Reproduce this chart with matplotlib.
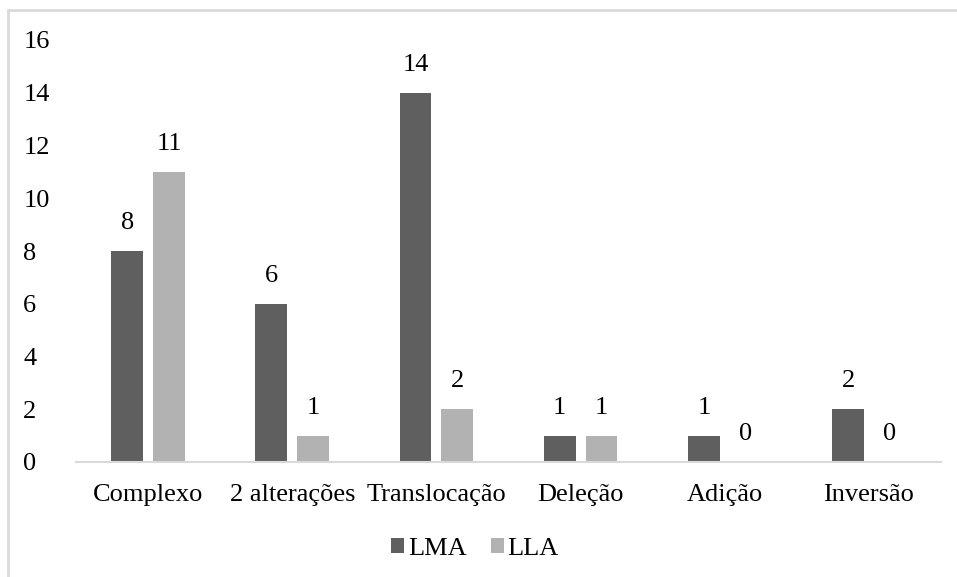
import matplotlib.pyplot as plt
from matplotlib.patches import Rectangle
import numpy as np

categories = ['Complexo', '2 alterações', 'Translocação', 'Deleção', 'Adição', 'Inversão']
lma = [8, 6, 14, 1, 1, 2]
lla = [11, 1, 2, 1, 0, 0]
yticks = [0, 2, 4, 6, 8, 10, 12, 14, 16]

plt.rcParams['font.family'] = ['Liberation Serif', 'DejaVu Serif']
plt.rcParams['font.size'] = 19

fig = plt.figure(figsize=(9.57, 5.77), dpi=100)
W, H = 957, 577
ax = fig.add_axes([76 / W, 1 - 462 / H, (941 - 76) / W, (462 - 40) / H])

# light grey chart border (right/bottom are off the picture)
fig.patches.append(Rectangle((8 / W, -0.1), 1.1, 1 - 10 / H + 0.1, transform=fig.transFigure,
                             fill=False, edgecolor='#d9d9d9', linewidth=2))

x = np.arange(len(categories))
off = 0.145
w = 0.22
c1, c2 = '#5f5f5f', '#b2b2b2'
b1 = ax.bar(x - off, lma, w, color=c1, label='LMA')
b2 = ax.bar(x + off, lla, w, color=c2, label='LLA')

for xs, vals in [(x - off, lma), (x + off, lla)]:
    for xi, v in zip(xs, vals):
        ax.annotate(str(v), (xi, v), xytext=(0, 20), textcoords='offset points',
                    ha='center', va='center')

ax.set_xlim(-0.5, len(categories) - 0.5)
ax.set_ylim(0, 16)
ax.set_yticks(yticks)
ax.set_xticks(x)
ax.set_xticklabels(categories)
ax.tick_params(axis='both', length=0)
ax.tick_params(axis='x', pad=16)
ax.tick_params(axis='y', pad=38)
for t in ax.get_yticklabels():
    t.set_horizontalalignment('left')
for s in ['top', 'right', 'left']:
    ax.spines[s].set_visible(False)
ax.spines['bottom'].set_color('#d9d9d9')
ax.spines['bottom'].set_linewidth(1.5)

fig.legend(handles=[b1, b2], loc='center', bbox_to_anchor=(475 / W, 1 - 549 / H),
           ncol=2, frameon=False, handlelength=0.5, handleheight=0.5,
           handletextpad=0.15, columnspacing=0.9)

fig.savefig('out.png', dpi=100)
